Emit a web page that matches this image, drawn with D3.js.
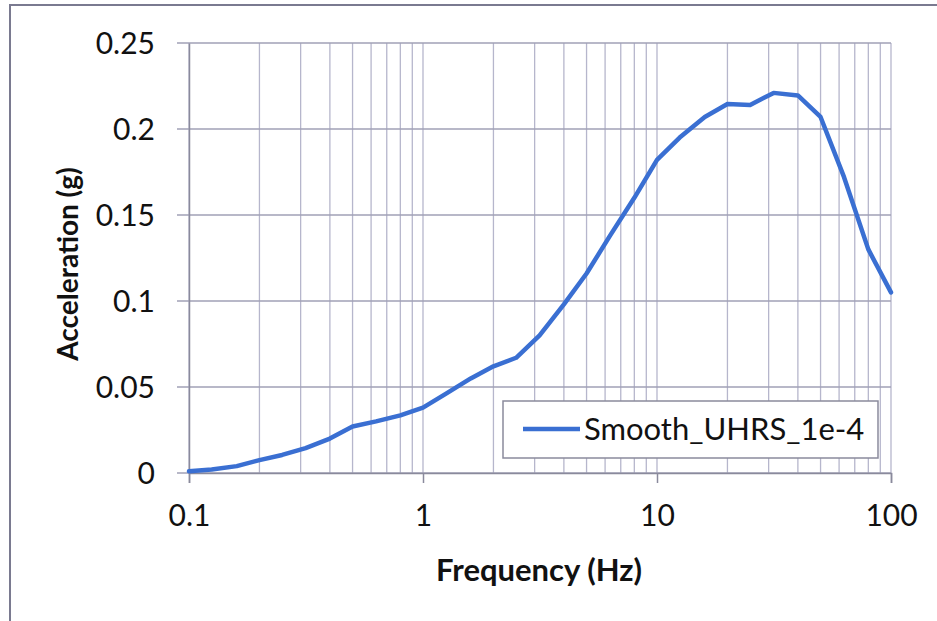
<!DOCTYPE html>
<html>
<head>
<meta charset="utf-8">
<script src="https://cdn.jsdelivr.net/npm/d3@7"></script>
<style>
  body { margin: 0; background: #fff; }
  svg text { font-family: Lato, "Open Sans", sans-serif; fill: #111; }
</style>
</head>
<body>
<div id="chart"></div>
<script>
var svgWidth = 937;
var svgHeight = 621;

// plot area edges
var margin = { top: 43, right: 46, bottom: 148, left: 189 };
var width = svgWidth - margin.left - margin.right;
var height = svgHeight - margin.top - margin.bottom;

// data
var freqs = [0.1, 0.125, 0.16, 0.2, 0.25, 0.315, 0.4, 0.5, 0.63, 0.8,
  1, 1.25, 1.6, 2, 2.5, 3.15, 4, 5, 6.3, 8,
  10, 12.5, 16, 20, 25, 31.5, 40, 50, 63, 80, 100];
var accel = [0.001, 0.002, 0.004, 0.0075, 0.0105, 0.0145, 0.020, 0.027, 0.030, 0.0335,
  0.038, 0.046, 0.055, 0.062, 0.067, 0.080, 0.098, 0.116, 0.138, 0.160,
  0.182, 0.195, 0.207, 0.2145, 0.214, 0.221, 0.2195, 0.207, 0.172, 0.130, 0.105];
var seriesName = "Smooth_UHRS_1e-4";
var xTicks = [0.1, 1, 10, 100];
var yTicks = [0, 0.05, 0.1, 0.15, 0.2, 0.25];

var svg = d3.select("#chart")
  .append("svg")
  .attr("width", svgWidth)
  .attr("height", svgHeight);

// outer chart border
svg.append("rect")
  .attr("x", 10).attr("y", 5)
  .attr("width", 940).attr("height", 630)
  .attr("fill", "none")
  .attr("stroke", "#7a7a90")
  .attr("stroke-width", 2);

var chartGroup = svg.append("g")
  .attr("transform", `translate(${margin.left}, ${margin.top})`);

var x = d3.scaleLog().domain([0.1, 100]).range([0, width]);
var y = d3.scaleLinear().domain([0, 0.25]).range([height, 0]);

// minor + major vertical grid
var vGrid = [];
[0.1, 1, 10].forEach(function (dec) {
  for (var k = 1; k <= 9; k++) vGrid.push(dec * k);
});
vGrid.push(100);

chartGroup.append("g")
  .selectAll("line")
  .data(vGrid)
  .enter()
  .append("line")
  .attr("x1", d => x(d)).attr("x2", d => x(d))
  .attr("y1", 0).attr("y2", height)
  .attr("stroke", "#b6b6cc")
  .attr("stroke-width", 1.3);

// horizontal grid (extends left as tick marks)
chartGroup.append("g")
  .selectAll("line")
  .data(yTicks)
  .enter()
  .append("line")
  .attr("x1", -12).attr("x2", width)
  .attr("y1", d => y(d)).attr("y2", d => y(d))
  .attr("stroke", "#a0a0b6")
  .attr("stroke-width", 1.3);

// axes
var bottomAxis = d3.axisBottom(x)
  .tickValues(xTicks)
  .tickFormat(d3.format("~g"))
  .tickSize(10)
  .tickPadding(22);
var leftAxis = d3.axisLeft(y)
  .tickValues(yTicks)
  .tickFormat(d => d === 0 ? "0" : d3.format("~g")(d))
  .tickSize(0)
  .tickPadding(34);

var xAxis = chartGroup.append("g")
  .attr("transform", `translate(0, ${height})`)
  .call(bottomAxis);
var yAxis = chartGroup.append("g").call(leftAxis);

[xAxis, yAxis].forEach(function (g) {
  g.select(".domain").attr("stroke", "#8a8a9c").attr("stroke-width", 1.5);
  g.selectAll(".tick line").attr("stroke", "#8a8a9c").attr("stroke-width", 1.5);
  g.selectAll(".tick text")
    .attr("font-size", "30px")
    .attr("fill", "#111");
});
yAxis.selectAll(".tick text").attr("dy", "0.36em");

// line
var line = d3.line()
  .x((d, i) => x(freqs[i]))
  .y(d => y(d));

chartGroup.append("path")
  .datum(accel)
  .attr("d", line)
  .attr("fill", "none")
  .attr("stroke", "#3a6fd2")
  .attr("stroke-width", 4.5)
  .attr("stroke-linejoin", "round")
  .attr("stroke-linecap", "round");

// axis titles
svg.append("text")
  .attr("x", 539).attr("y", 581)
  .attr("text-anchor", "middle")
  .attr("font-size", "31px")
  .attr("font-weight", "bold")
  .text("Frequency (Hz)");

svg.append("text")
  .attr("transform", "translate(78, 264) rotate(-90)")
  .attr("text-anchor", "middle")
  .attr("font-size", "28px")
  .attr("font-weight", "bold")
  .text("Acceleration (g)");

// legend
var legend = svg.append("g");
legend.append("rect")
  .attr("x", 503).attr("y", 401)
  .attr("width", 375).attr("height", 57)
  .attr("fill", "#fff")
  .attr("stroke", "#8a8a9c")
  .attr("stroke-width", 1.5);
legend.append("line")
  .attr("x1", 523).attr("x2", 580)
  .attr("y1", 429).attr("y2", 429)
  .attr("stroke", "#3a6fd2")
  .attr("stroke-width", 4.5);
legend.append("text")
  .attr("x", 584).attr("y", 440)
  .attr("font-size", "31px")
  .text(seriesName);
</script>
</body>
</html>
